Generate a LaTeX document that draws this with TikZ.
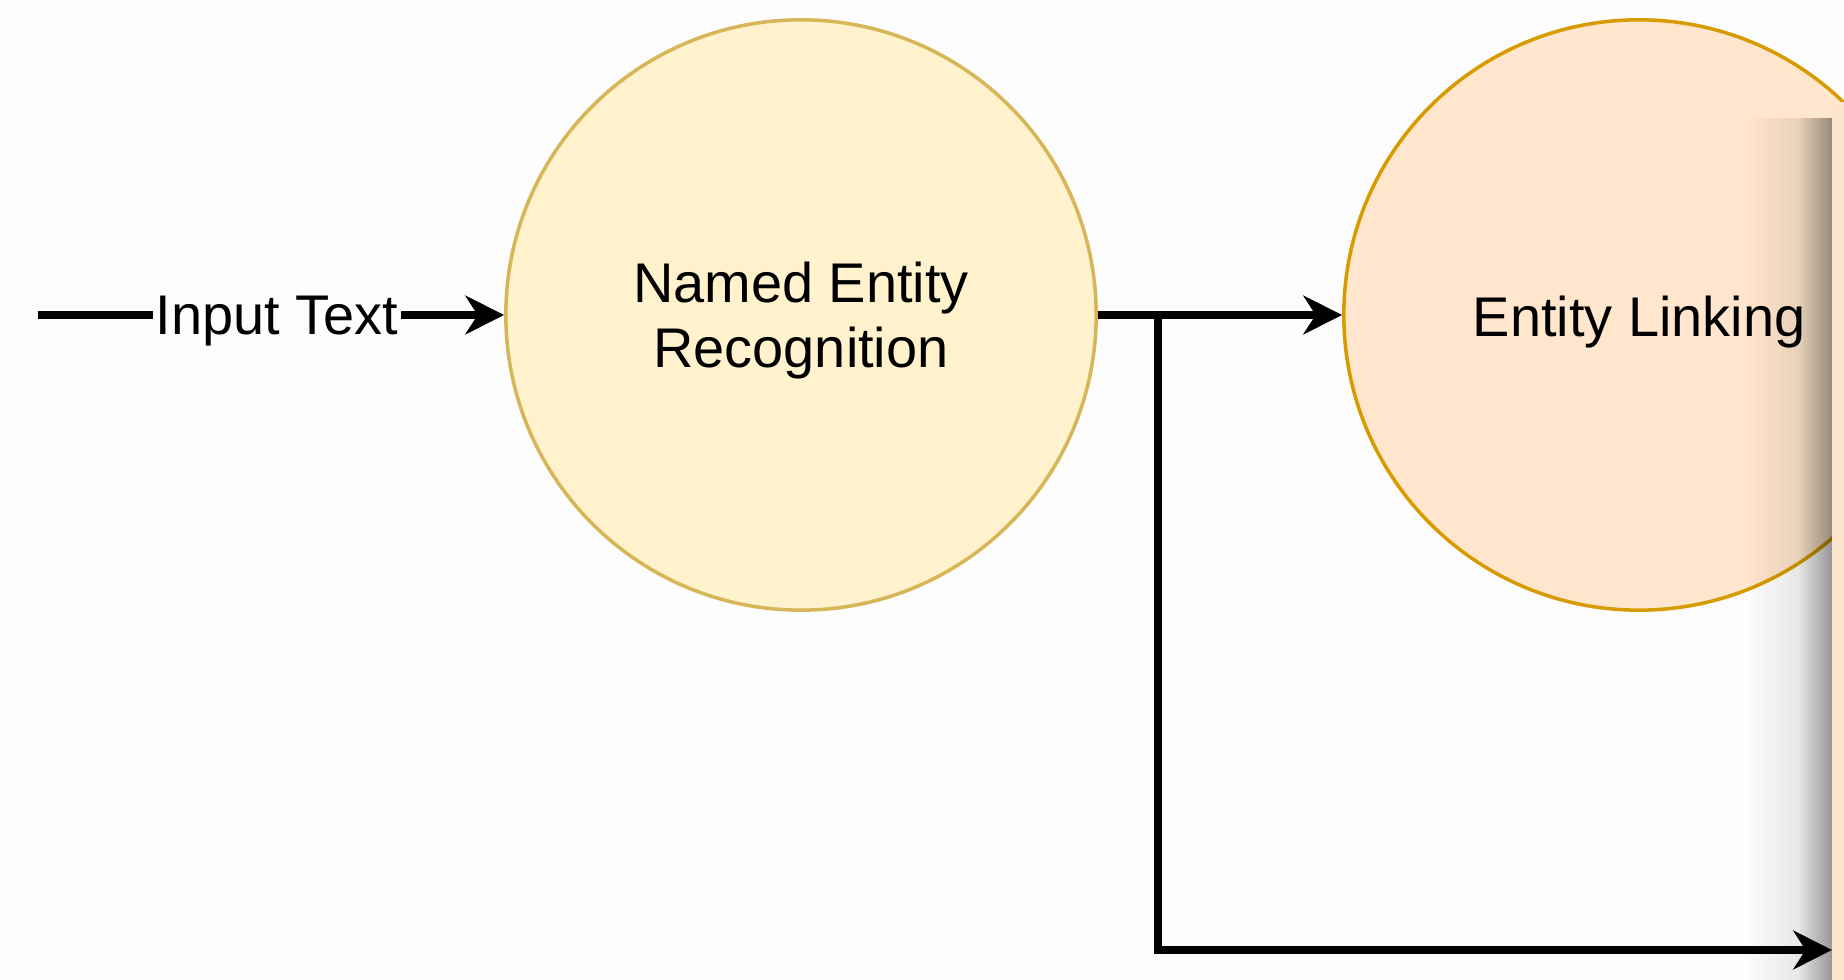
\documentclass[tikz,border=0pt]{standalone}
\usepackage{fontspec}
\setmainfont{Liberation Sans}
\usetikzlibrary{arrows.meta,fadings}

\definecolor{nerfill}{HTML}{FFF2CC}
\definecolor{nerline}{HTML}{D6B656}
\definecolor{elfill}{HTML}{FFE6CC}
\definecolor{elline}{HTML}{D79B00}
\definecolor{pagebg}{HTML}{FDFDFD}
\definecolor{panelfill}{HTML}{FEE5CD}

\tikzset{
  stage/.style={circle, minimum size=5.9cm, inner sep=0pt, line width=1pt},
  stagetext/.style={align=center, font=\fontsize{15.9}{18.5}\selectfont},
  flow/.style={line width=2pt, -{Stealth[length=11pt,width=11pt,inset=3.5pt]}},
  flowlabel/.style={fill=pagebg, inner sep=0.8pt, font=\fontsize{15.9}{18.5}\selectfont},
  edgeshadow/.style={fill=black, path fading=west},
}

\begin{document}
\begin{tikzpicture}[x=0.01cm, y=-0.01cm]
  % page
  \fill[pagebg] (0,0) rectangle (1844,980);
  \useasboundingbox (0,0) rectangle (1844,980);

  % the two stages
  \node[stage, fill=nerfill, draw=nerline] (ner) at (801,315) {};
  \node[stage, fill=elfill, draw=elline] (el) at (1639,315) {};
  \node[stagetext] (nertext) at ([yshift=-0.06cm]ner.center) {Named Entity\\Recognition};
  \node[stagetext] (eltext) at ([yshift=-0.07cm]el.center) {Entity Linking};

  % input and outputs
  \coordinate (src) at (38,315);
  \coordinate (split) at (1158,315);
  \coordinate (tap) at (1832,950);
  \draw[flow] (src) -- (ner.west) node[flowlabel, pos=0.513, yshift=-0.06cm] (intext) {Input Text};
  \draw[flow] (ner.east) -- (el.west);
  \draw[flow] (split) |- (tap);

  % side panel with its drop shadow (a wide faint ramp plus a narrow dark one)
  \path[edgeshadow, opacity=0.14] (1745,118) rectangle (1832,980);
  \path[edgeshadow, opacity=0.30] (1798,118) rectangle (1832,980);
  \fill[panelfill] (1832,102) rectangle (1844,980);
\end{tikzpicture}
\end{document}
